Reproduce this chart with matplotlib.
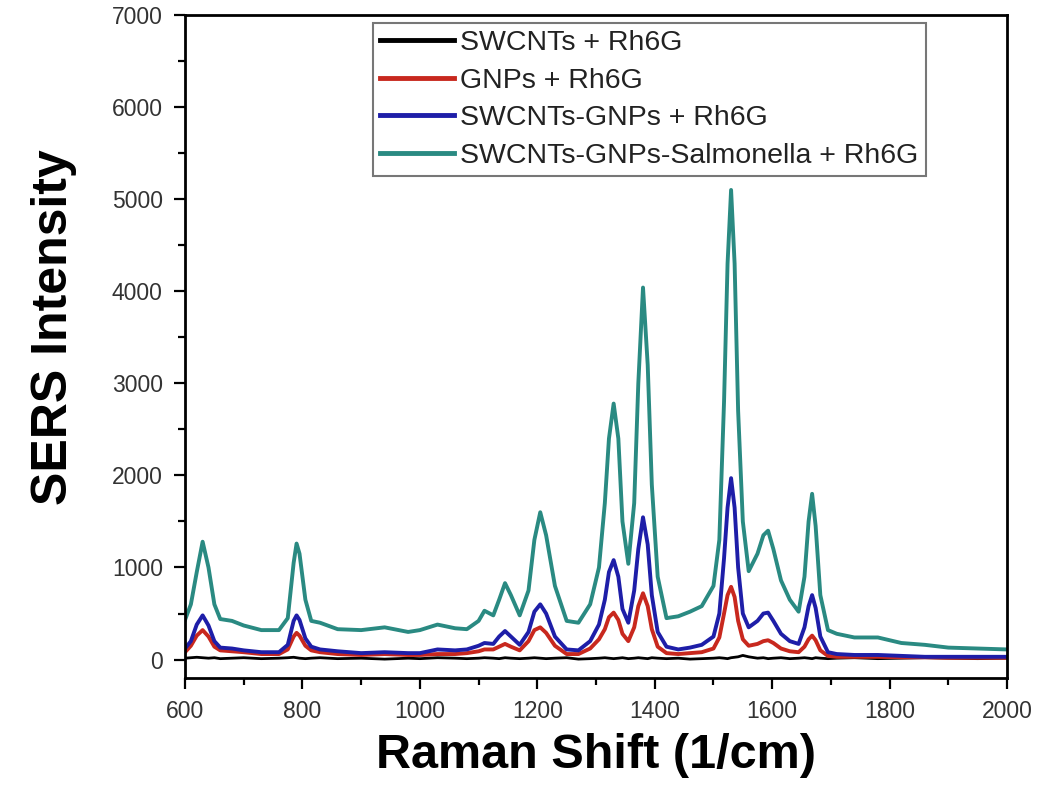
import matplotlib
matplotlib.use("Agg")
import matplotlib.pyplot as plt
from matplotlib.ticker import MultipleLocator

plt.rcParams['font.family'] = ['Liberation Sans', 'DejaVu Sans']

raman_shift = [600, 610, 620, 630, 640, 650, 660, 680, 700, 730, 760, 775, 785, 790, 795, 805, 815, 830,
               860, 900, 940, 980, 1000, 1030, 1060, 1080, 1100, 1110, 1125, 1135, 1145, 1155, 1170, 1185,
               1195, 1205, 1215, 1230, 1250, 1270, 1290, 1305, 1315, 1322, 1330, 1338, 1345, 1355, 1365,
               1372, 1380, 1388, 1395, 1405, 1420, 1440, 1460, 1480, 1500, 1510, 1518, 1524, 1530, 1536,
               1542, 1550, 1560, 1575, 1585, 1593, 1602, 1615, 1630, 1645, 1655, 1662, 1668, 1674, 1682,
               1695, 1710, 1740, 1780, 1820, 1860, 1900, 1950, 2000]

swcnt_rh6g = [15, 20, 25, 20, 15, 20, 10, 15, 20, 10, 15, 20, 25, 20, 15, 10, 15, 20,
              10, 15, 5, 15, 10, 20, 15, 10, 15, 20, 15, 10, 20, 15, 10, 15,
              20, 15, 10, 15, 20, 5, 10, 15, 20, 15, 10, 15, 20, 10, 15,
              20, 15, 10, 20, 15, 10, 15, 5, 10, 15, 20, 15, 10, 20, 25,
              30, 45, 30, 15, 20, 10, 15, 20, 10, 15, 20, 15, 10, 20, 15,
              10, 15, 20, 10, 15, 20, 15, 10, 15]

gnps_rh6g = [80, 150, 260, 320, 250, 140, 100, 90, 80, 60, 60, 110, 250, 290, 260, 150, 100, 80,
             60, 50, 60, 50, 50, 60, 60, 70, 90, 110, 110, 140, 170, 140, 100, 200,
             320, 350, 290, 150, 60, 60, 120, 220, 330, 460, 510, 430, 280, 200, 350,
             580, 720, 580, 330, 140, 70, 60, 70, 80, 120, 240, 500, 700, 790, 680,
             420, 220, 150, 170, 200, 210, 180, 120, 90, 80, 140, 220, 260, 210, 100,
             40, 30, 30, 30, 25, 25, 20, 20, 20]

swcnt_gnps_rh6g = [120, 200, 380, 480, 370, 200, 130, 120, 100, 80, 80, 160, 420, 480, 430, 230, 140, 110,
                   90, 70, 80, 70, 70, 110, 100, 110, 150, 180, 170, 250, 310, 250, 160, 300,
                   520, 600, 500, 250, 110, 100, 200, 380, 650, 950, 1080, 900, 550, 400, 750,
                   1200, 1545, 1250, 700, 300, 140, 110, 130, 160, 250, 500, 1100, 1650, 1970, 1650,
                   1000, 500, 350, 420, 500, 510, 420, 280, 200, 170, 350, 580, 700, 560, 250,
                   80, 60, 50, 50, 40, 30, 30, 30, 30]

swcnt_gnps_salm_rh6g = [430, 600, 950, 1280, 1000, 600, 440, 420, 370, 320, 320, 450, 1050, 1260, 1150, 650, 420, 400,
                        330, 320, 350, 300, 320, 380, 340, 330, 420, 530, 480, 650, 830, 700, 480, 750,
                        1300, 1600, 1350, 800, 420, 400, 600, 1000, 1700, 2400, 2780, 2400, 1500, 1040, 1700,
                        3000, 4040, 3200, 1900, 900, 450, 470, 520, 580, 800, 1300, 2800, 4300, 5100, 4300,
                        2700, 1500, 960, 1150, 1350, 1400, 1200, 860, 650, 520, 900, 1500, 1800, 1450, 700,
                        320, 280, 240, 240, 180, 160, 130, 120, 110]

labels = ["SWCNTs + Rh6G", "GNPs + Rh6G", "SWCNTs-GNPs + Rh6G", "SWCNTs-GNPs-Salmonella + Rh6G"]
colors = ["#000000", "#c8281e", "#1e1ea8", "#2a8a82"]
widths = [2.0, 2.8, 2.8, 2.8]
series = [swcnt_rh6g, gnps_rh6g, swcnt_gnps_rh6g, swcnt_gnps_salm_rh6g]

fig = plt.figure(figsize=(10.5, 7.89), dpi=100)
ax = fig.add_axes([0.1762, 0.1407, 0.7829, 0.8403])

for y, c, lw, lab in zip(series, colors, widths, labels):
    ax.plot(raman_shift, y, color=c, lw=lw, label=lab)

ax.set_xlim(600, 2000)
ax.set_ylim(-200, 7000)
ax.xaxis.set_major_locator(MultipleLocator(200))
ax.xaxis.set_minor_locator(MultipleLocator(100))
ax.yaxis.set_major_locator(MultipleLocator(1000))
ax.yaxis.set_minor_locator(MultipleLocator(500))
ax.tick_params(which='both', direction='out', width=1.6, colors='black', labelsize=16.5,
               labelcolor='#333333')
ax.tick_params(which='major', length=8, pad=8)
ax.tick_params(which='minor', length=5)
for s in ax.spines.values():
    s.set_linewidth(2)

ax.set_xlabel("Raman Shift (1/cm)", fontsize=35, fontweight='bold')
ax.set_ylabel("SERS Intensity", fontsize=36, fontweight='bold')
ax.xaxis.set_label_coords(0.5, -0.083)
ax.yaxis.set_label_coords(-0.131, 0.529)

leg = ax.legend(loc='upper left', bbox_to_anchor=(0.2287, 0.988), borderaxespad=0,
                fontsize=20.5, frameon=True, fancybox=False, handlelength=2.6,
                handletextpad=0.22, labelspacing=0.41, borderpad=0.25)
leg.get_frame().set_edgecolor('#555555')
leg.get_frame().set_linewidth(1.5)
for line in leg.get_lines():
    line.set_linewidth(3.5)
for t in leg.get_texts():
    t.set_color('#222222')

fig.savefig("out.png", dpi=100)
